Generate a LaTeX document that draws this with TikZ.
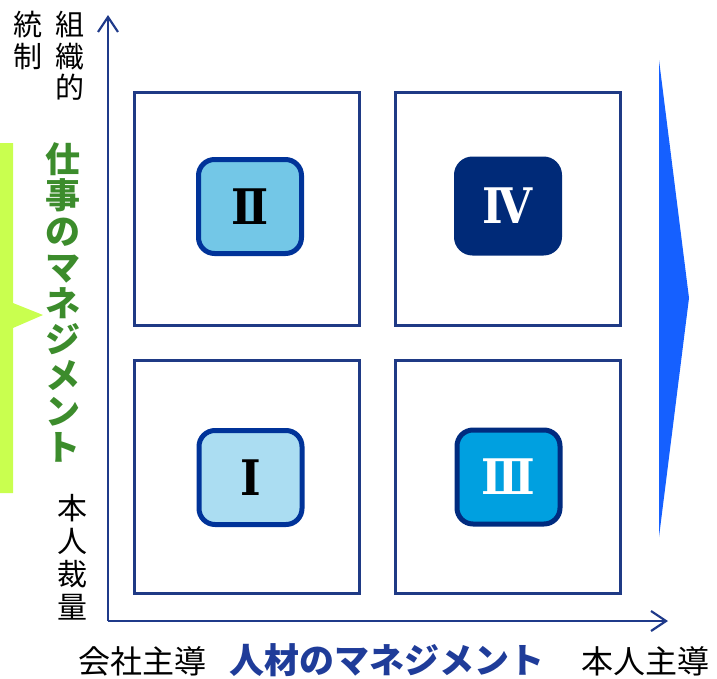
\documentclass[tikz,border=0pt]{standalone}
\usepackage{fontspec}
\newfontfamily\jp{Noto Sans CJK JP}
\newfontfamily\rom{DejaVu Serif Condensed}
\usetikzlibrary{arrows.meta}
\definecolor{navy}{HTML}{1F3A85}
\definecolor{axisblue}{HTML}{1F3A8A}
\definecolor{bordA}{HTML}{003399}
\definecolor{bordB}{HTML}{002B7F}
\definecolor{fillI}{HTML}{ABDDF2}
\definecolor{fillII}{HTML}{73C7E7}
\definecolor{fillIII}{HTML}{00A0E0}
\definecolor{fillIV}{HTML}{002A78}
\definecolor{greentext}{HTML}{3C8C2C}
\definecolor{lime}{HTML}{C9FF4F}
\definecolor{tri}{HTML}{1560FF}
\definecolor{bluetext}{HTML}{1F3C99}
\begin{document}
\begin{tikzpicture}[x=1pt,y=-1pt,
  quad/.style={draw=navy,line width=2.6pt,minimum width=225.4pt,minimum height=233.4pt,inner sep=0pt},
  tile/.style={rounded corners=16pt,line width=5pt,minimum width=103pt,minimum height=94pt,inner sep=0pt,font=\rom\bfseries\fontsize{49}{49}\selectfont},
  axis/.style={draw=axisblue,line width=2.2pt,-{Straight Barb[length=15pt,width=20pt,line width=2.2pt]}},
  vtext/.style={align=center,inner sep=0pt,anchor=north},
  htext/.style={inner sep=0pt,font=\jp\fontsize{32}{32}\selectfont}]
\useasboundingbox (0,0) rectangle (717,678);
% left lime bar with pointer
\fill[lime] (0,143) -- (13,143) -- (13,303) -- (43,315) -- (13,328) -- (13,493) -- (0,493) -- cycle;
% right blue triangle
\fill[tri] (659,60) -- (689,298) -- (659,537) -- cycle;
% quadrants
\node[quad] (q2) at (247,209) {};
\node[quad] (q4) at (508,209) {};
\node[quad] (q1) at (247,477) {};
\node[quad] (q3) at (508,477) {};
% tiles
\node[tile,draw=bordA,fill=fillII,text=black] (t2) at (250,206.5) {Ⅱ};
\node[tile,draw=fillIV,fill=fillIV,text=white] (t4) at (508,206) {Ⅳ};
\node[tile,draw=bordA,fill=fillI,text=black] (t1) at (250.5,477.5) {Ⅰ};
\node[tile,draw=bordB,fill=fillIII,text=white] (t3) at (508.5,477) {Ⅲ};
% axes
\coordinate (o) at (108,621);
\coordinate (ytop) at (108,15);
\coordinate (xend) at (668,621);
\draw[axis] (o) -- (ytop);
\draw[axis] (o) -- (xend);
% vertical labels
\node[vtext,font=\jp\fontsize{29}{31.5}\selectfont] (l1) at (28,11) {統\\制};
\node[vtext,font=\jp\fontsize{29}{31.5}\selectfont] (l2) at (70,11) {組\\織\\的};
\node[vtext,font=\jp\fontsize{30}{33}\selectfont] (l3) at (72,494) {本\\人\\裁\\量};
\node[vtext,font=\jp\bfseries\fontsize{35}{36}\selectfont,text=greentext] (l4) at (63,142) {仕\\事\\の\\マ\\ネ\\ジ\\メ\\ン\\ト};
% horizontal labels
\node[htext] (b1) at (142.5,661) {会社主導};
\node[htext,font=\jp\bfseries\fontsize{35}{35}\selectfont,text=bluetext] (b2) at (386.5,660) {人材のマネジメント};
\node[htext] (b3) at (645,661) {本人主導};
\end{tikzpicture}
\end{document}
